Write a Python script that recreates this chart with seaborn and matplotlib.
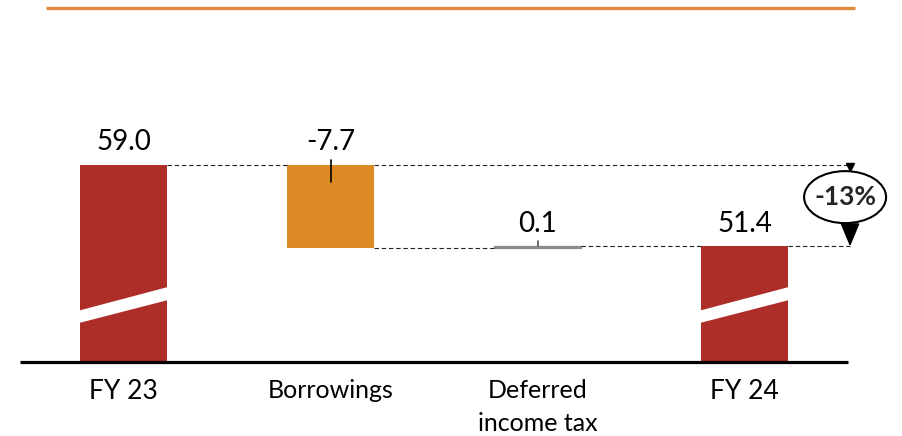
import matplotlib.pyplot as plt
import matplotlib.patches as mpatches
from matplotlib.lines import Line2D
import seaborn as sns
import pandas as pd

# Data
categories = ["FY 23", "Borrowings", "Deferred\nincome tax", "FY 24"]
changes = [59.0, -7.7, 0.1, 51.4]
value_labels = ["59.0", "-7.7", "0.1", "51.4"]
is_total = [True, False, False, True]
change_label = "-13%"

# waterfall bottoms
bottoms = []
running = 0.0
for v, tot in zip(changes, is_total):
    if tot:
        bottoms.append(0.0)
        running = v
    else:
        bottoms.append(running)
        running += v

red = "#AD2D29"
orange = "#DE8A24"
grey = "#8C8C8C"
colors = [red, orange, grey, red]

sns.set_theme(style="white")
plt.rcParams["font.family"] = ["Lato", "DejaVu Sans"]

fig = plt.figure(figsize=(9.02, 4.36), dpi=100)
ax = fig.add_axes([0, 0.1697, 1, 0.6927])

df = pd.DataFrame({"cat": categories, "val": changes})
bar_w = 0.42
sns.barplot(data=df, x="cat", y="val", bottom=bottoms, width=bar_w, color=red,
            saturation=1, errorbar=None, ax=ax)
for p, c in zip(ax.patches, colors):
    p.set_facecolor(c)
    p.set_edgecolor(c)
    p.set_linewidth(0.9 if c == grey else 0)

ymin, ymax = 40.62, 68.79
ax.set_ylim(ymin, ymax)
ax.set_xlim(-0.597, 3.761)
sns.despine(ax=ax, left=True, bottom=True)
ax.set_yticks([])
ax.set_xlabel("")
ax.set_ylabel("")

# baseline
ax.plot([-0.5, 3.5], [ymin, ymin], color="black", lw=2.3, clip_on=False, zorder=5,
        solid_capstyle="butt")

# break marks on total bars
half = bar_w / 2 + 0.005
for i, tot in enumerate(is_total):
    if tot:
        band = mpatches.Polygon([(i - half, 44.26), (i + half, 46.40),
                                 (i + half, 47.62), (i - half, 45.42)],
                                closed=True, fc="white", ec="none", zorder=4)
        ax.add_patch(band)

# connectors
tops = [b + max(v, 0) for b, v in zip(bottoms, changes)]
ends = [b + v for b, v in zip(bottoms, changes)]
dash = dict(color="#222222", lw=0.8, linestyle=(0, (4, 2.5)), zorder=1)
ax.plot([0 + bar_w / 2, 1 - bar_w / 2], [ends[0]] * 2, **dash)
ax.plot([1 + bar_w / 2, 3.51], [ends[0]] * 2, **dash)
ax.plot([1 + bar_w / 2, 2 - bar_w / 2], [ends[1]] * 2, **dash)
ax.plot([2 + bar_w / 2, 3 - bar_w / 2], [ends[2]] * 2, **dash)
ax.plot([3 + bar_w / 2, 3.51], [ends[3]] * 2, **dash)

# small ticks on change bars
ax.plot([1, 1], [tops[1] + 0.45, tops[1] - 1.6], color="black", lw=1.2, zorder=3)
ax.plot([2, 2], [tops[2], tops[2] + 0.5], color="#555555", lw=1.2, zorder=3)

# value labels
for i, (t, lab) in enumerate(zip(tops, value_labels)):
    ax.annotate(lab, (i, t), xytext=(0, 7), textcoords="offset points",
                ha="center", va="bottom", fontsize=20, color="black")

# category labels
ax.set_xticks(range(len(categories)))
ax.set_xticklabels(categories, fontsize=18)
ax.tick_params(axis="x", length=0, pad=12)
for lab, tot in zip(ax.get_xticklabels(), is_total):
    lab.set_color("black")
    lab.set_linespacing(1.55)
    if tot:
        lab.set_fontsize(19)

# change annotation
ax.annotate("", xy=(3.51, ends[3]), xytext=(3.51, ends[0]),
            arrowprops=dict(arrowstyle="-|>,head_length=0.72,head_width=0.3",
                            color="black", lw=1.3, shrinkA=0, shrinkB=0,
                            mutation_scale=20), zorder=5)
ax.plot([3.51], [ends[0] - 0.15], marker="v", color="black", markersize=6, zorder=5)
ax.add_patch(mpatches.Ellipse((3.486, 56.0), 0.396, 4.85, fc="white", ec="black",
                              lw=1.5, zorder=6))
ax.text(3.486, 56.0, change_label, ha="center", va="center", fontsize=19,
        fontweight="bold", zorder=7)

# top rule
fig.add_artist(Line2D([46 / 902, 855 / 902], [1 - 8.5 / 436] * 2, color="#E08B3E",
                      lw=2.4, solid_capstyle="butt"))

fig.savefig("out.png", dpi=100)
